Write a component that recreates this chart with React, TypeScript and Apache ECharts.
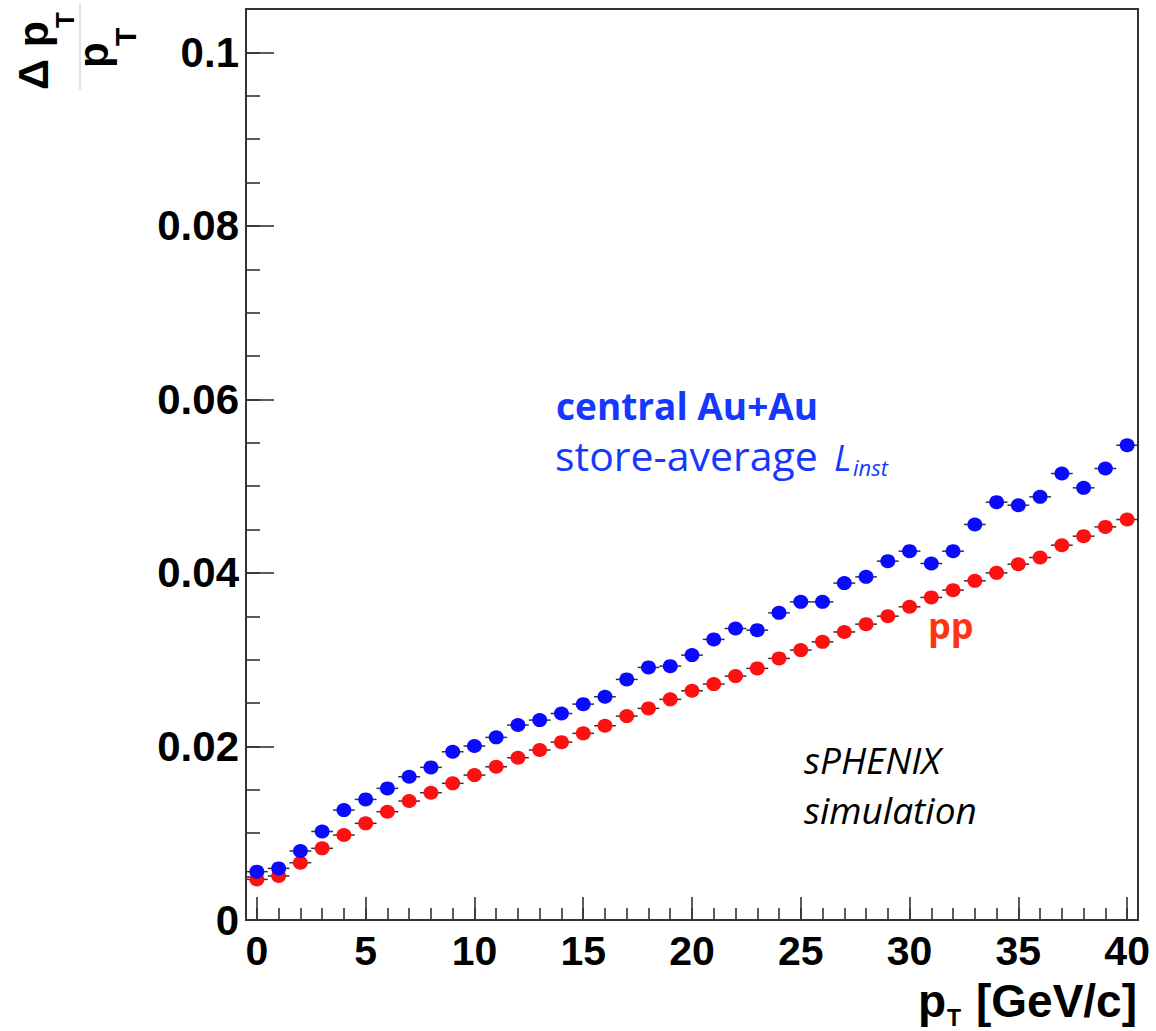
import React, { useEffect, useRef } from "react";
import * as echarts from "echarts";

// ---- data ----
const pT = [0, 1, 2, 3, 4, 5, 6, 7, 8, 9, 10, 11, 12, 13, 14, 15, 16, 17, 18, 19, 20,
  21, 22, 23, 24, 25, 26, 27, 28, 29, 30, 31, 32, 33, 34, 35, 36, 37, 38, 39, 40];

const resAuAu = [0.00557, 0.00595, 0.00795, 0.0102, 0.01267, 0.0139, 0.01517, 0.01651, 0.01759, 0.01939,
  0.02005, 0.02105, 0.02247, 0.02304, 0.0238, 0.02488, 0.02573, 0.02773, 0.02911, 0.02926,
  0.03053, 0.03234, 0.0336, 0.03341, 0.0354, 0.03667, 0.03667, 0.03883, 0.03955, 0.04136,
  0.04251, 0.04109, 0.04251, 0.04559, 0.04816, 0.04781, 0.04877, 0.05146, 0.04981, 0.05204, 0.05472];

const resPP = [0.00468, 0.00507, 0.0066, 0.00826, 0.00979, 0.01114, 0.01248, 0.01371, 0.01467, 0.01575,
  0.0167, 0.01766, 0.0187, 0.01959, 0.0205, 0.02151, 0.02239, 0.0235, 0.02439, 0.02543,
  0.02642, 0.02719, 0.02811, 0.029, 0.03015, 0.03111, 0.03206, 0.0332, 0.0341, 0.03502,
  0.0361, 0.03718, 0.03802, 0.03909, 0.04001, 0.04101, 0.04178, 0.0432, 0.04424, 0.04531, 0.04616];

const xMajorTicks = [0, 5, 10, 15, 20, 25, 30, 35, 40];
const xMinorTicks = pT;
const yMajorTicks = [0, 0.02, 0.04, 0.06, 0.08, 0.1];
const yMinorTicks = Array.from({ length: 21 }, (_, i) => Number((i * 0.005).toFixed(3)));

const BLUE = "#0a0aff";
const RED = "#ff1010";
const TICK_STYLE = { color: "#333", width: 1.6 };
const LABEL_FONT = "Liberation Sans, Arial, sans-serif";
const NOTE_FONT = "Open Sans, sans-serif";

export default function App() {
  const ref = useRef<HTMLDivElement>(null);

  useEffect(() => {
    if (!ref.current) return;
    const chart = echarts.init(ref.current, undefined, { renderer: "svg" });

    const auData = pT.map((x, i) => [x, resAuAu[i]]);
    const ppData = pT.map((x, i) => [x, resPP[i]]);

    const errRender = (params: any, api: any) => {
      const x = api.value(0);
      const y = api.value(1);
      const p1 = api.coord([x - 0.5, y]);
      const p2 = api.coord([x + 0.5, y]);
      return {
        type: "line",
        shape: { x1: p1[0], y1: p1[1], x2: p2[0], y2: p2[1] },
        style: { stroke: "#333", lineWidth: 1.5 },
      };
    };

    const rotText = (text: string, x: number, y: number, size: number) => ({
      type: "text",
      x,
      y,
      rotation: Math.PI / 2,
      style: {
        text,
        fill: "#000",
        font: `bold ${size}px ${LABEL_FONT}`,
        textAlign: "left",
        textVerticalAlign: "middle",
      },
    });

    const txt = (text: string, x: number, y: number, font: string, fill: string, align = "left") => ({
      type: "text",
      x,
      y,
      style: { text, fill, font, textAlign: align, textVerticalAlign: "middle" },
    });

    chart.setOption({
      animation: false,
      backgroundColor: "#fff",
      grid: {
        left: 246,
        top: 9,
        right: 18,
        bottom: 111,
        show: true,
        borderColor: "#333",
        borderWidth: 2,
        backgroundColor: "transparent",
      },
      xAxis: [
        {
          type: "value",
          min: -0.5,
          max: 40.5,
          position: "bottom",
          axisLine: { show: true, onZero: false, lineStyle: { color: "#333", width: 2 } },
          splitLine: { show: false },
          axisTick: { show: true, inside: true, length: 12, customValues: xMinorTicks, lineStyle: TICK_STYLE },
          axisLabel: {
            customValues: xMajorTicks,
            margin: 10,
            color: "#000",
            fontFamily: LABEL_FONT,
            fontWeight: "bold",
            fontSize: 41,
          },
        },
        {
          type: "value",
          min: -0.5,
          max: 40.5,
          position: "bottom",
          axisLine: { show: false, onZero: false },
          splitLine: { show: false },
          axisTick: { show: true, inside: true, length: 23, customValues: xMajorTicks, lineStyle: TICK_STYLE },
          axisLabel: { show: false },
        },
      ],
      yAxis: [
        {
          type: "value",
          min: 0,
          max: 0.105,
          position: "left",
          axisLine: { show: true, onZero: false, lineStyle: { color: "#333", width: 2 } },
          splitLine: { show: false },
          axisTick: { show: true, inside: true, length: 14, customValues: yMinorTicks, lineStyle: TICK_STYLE },
          axisLabel: {
            customValues: yMajorTicks,
            margin: 7,
            color: "#000",
            fontFamily: LABEL_FONT,
            fontWeight: "bold",
            fontSize: 42,
          },
        },
        {
          type: "value",
          min: 0,
          max: 0.105,
          position: "left",
          axisLine: { show: false, onZero: false },
          splitLine: { show: false },
          axisTick: { show: true, inside: true, length: 28, customValues: yMajorTicks, lineStyle: TICK_STYLE },
          axisLabel: { show: false },
        },
      ],
      series: [
        {
          type: "custom",
          name: "pp err",
          renderItem: errRender,
          data: ppData,
          encode: { x: 0, y: 1 },
          z: 1,
        },
        {
          type: "custom",
          name: "AuAu err",
          renderItem: errRender,
          data: auData,
          encode: { x: 0, y: 1 },
          z: 1,
        },
        {
          type: "scatter",
          name: "pp",
          data: ppData,
          symbol: "circle",
          symbolSize: [15, 14],
          itemStyle: { color: RED, opacity: 1 },
          z: 3,
        },
        {
          type: "scatter",
          name: "central Au+Au",
          data: auData,
          symbol: "circle",
          symbolSize: [15, 14],
          itemStyle: { color: BLUE, opacity: 1 },
          z: 4,
        },
      ],
      graphic: [
        // y-axis title: Δp_T / p_T (rotated)
        rotText("\u0394 p", 33, 90, 43),
        rotText("T", 65, 28, 26),
        {
          type: "line",
          shape: { x1: 80, y1: 4, x2: 80, y2: 90 },
          style: { stroke: "#cfcfcf", lineWidth: 1.2 },
        },
        rotText("p", 93, 68, 42),
        rotText("T", 125, 46, 30),
        // x-axis title
        txt("[GeV/c]", 1137, 1001, `bold 46px ${LABEL_FONT}`, "#000", "right"),
        txt("p", 918, 1001, `bold 46px ${LABEL_FONT}`, "#000"),
        txt("T", 947, 1018, `bold 23px ${LABEL_FONT}`, "#000"),
        // annotations
        txt("central Au+Au", 556, 405, `bold 37px ${NOTE_FONT}`, "#1438ff"),
        txt("store-average", 555, 455, `41px ${NOTE_FONT}`, "#1438ff"),
        txt("L", 834, 457, `italic 36px ${NOTE_FONT}`, "#1438ff"),
        txt("inst", 853, 467, `italic 22px ${NOTE_FONT}`, "#1438ff"),
        txt("pp", 928, 625, `bold 36px ${NOTE_FONT}`, "#ff3311"),
        txt("sPHENIX", 804, 759, `italic 37px ${NOTE_FONT}`, "#000"),
        txt("simulation", 804, 809, `italic 37px ${NOTE_FONT}`, "#000"),
      ],
    });

    return () => chart.dispose();
  }, []);

  return (
    <div
      ref={ref}
      style={{ position: "fixed", left: 0, top: 0, width: 1156, height: 1031, background: "#fff" }}
    />
  );
}
